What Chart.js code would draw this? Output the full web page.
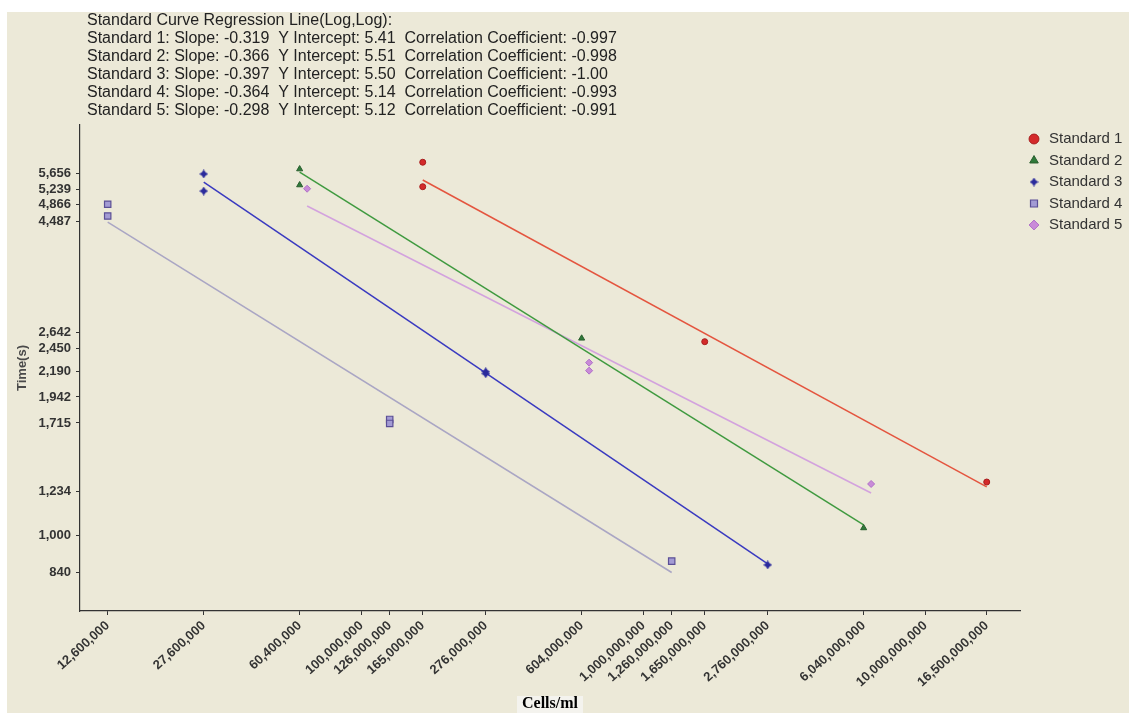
<!DOCTYPE html>
<html>
<head>
<meta charset="utf-8">
<script src="https://cdn.jsdelivr.net/npm/chart.js@4.4.1/dist/chart.umd.min.js"></script>
<style>
  html, body { margin: 0; padding: 0; background: #fff; }
  #wrap { width: 1129px; height: 713px; }
</style>
</head>
<body>
<div id="wrap"><canvas id="curve" width="1129" height="713"></canvas></div>
<script>
// Standard curves: time to detection vs cell concentration (log-log)

// measured points (cells/ml, time in s)
const std1Cells = [165000000, 165000000, 1650000000, 16500000000];
const std1Time = [5963, 5305, 2529, 1293];
const std2Cells = [60400000, 60400000, 604000000, 6040000000];
const std2Time = [5772, 5348, 2570, 1038];
const std3Cells = [27600000, 27600000, 276000000, 276000000, 2760000000];
const std3Time = [5638, 5197, 2191, 2170, 870];
const std4Cells = [12600000, 12600000, 126000000, 126000000, 1260000000];
const std4Time = [4878, 4611, 1744, 1711, 886];
const std5Cells = [64200000, 642000000, 642000000, 6420000000];
const std5Time = [5254, 2288, 2202, 1281];

// regression line end points
const fit1Cells = [165000000, 16500000000];
const fit1Time = [5477, 1263];
const fit2Cells = [60400000, 6040000000];
const fit2Time = [5691, 1053];
const fit3Cells = [27600000, 2760000000];
const fit3Time = [5425, 874];
const fit4Cells = [12600000, 1260000000];
const fit4Time = [4481, 839];
const fit5Cells = [64200000, 6420000000];
const fit5Time = [4837, 1227];

const xTicks = [12600000, 27600000, 60400000, 100000000, 126000000, 165000000, 276000000,
  604000000, 1000000000, 1260000000, 1650000000, 2760000000, 6040000000, 10000000000, 16500000000];
const yTicks = [840, 1000, 1234, 1715, 1942, 2190, 2450, 2642, 4487, 4866, 5239, 5656];

const summaryLines = [
  'Standard Curve Regression Line(Log,Log):',
  'Standard 1: Slope: -0.319  Y Intercept: 5.41  Correlation Coefficient: -0.997',
  'Standard 2: Slope: -0.366  Y Intercept: 5.51  Correlation Coefficient: -0.998',
  'Standard 3: Slope: -0.397  Y Intercept: 5.50  Correlation Coefficient: -1.00',
  'Standard 4: Slope: -0.364  Y Intercept: 5.14  Correlation Coefficient: -0.993',
  'Standard 5: Slope: -0.298  Y Intercept: 5.12  Correlation Coefficient: -0.991'
];

function pts(xs, ys) {
  return xs.map((x, i) => ({ x: x, y: ys[i] }));
}

// 4-point star marker for Standard 3
function makeStar(size, color) {
  const c = document.createElement('canvas');
  c.width = size; c.height = size;
  const g = c.getContext('2d');
  const m = size / 2, k = size * 0.2;
  g.fillStyle = color;
  g.beginPath();
  g.moveTo(m, 0);
  g.lineTo(m + k, m - k);
  g.lineTo(size, m);
  g.lineTo(m + k, m + k);
  g.lineTo(m, size);
  g.lineTo(m - k, m + k);
  g.lineTo(0, m);
  g.lineTo(m - k, m - k);
  g.closePath();
  g.fill();
  return c;
}
const starMark = makeStar(9, '#2b2b9c');

const backdrop = {
  id: 'backdrop',
  beforeDraw(chart) {
    const ctx = chart.ctx;
    ctx.save();
    ctx.fillStyle = '#ffffff';
    ctx.fillRect(0, 0, chart.width, chart.height);
    ctx.fillStyle = '#ece9d8';
    ctx.fillRect(7, 12, chart.width - 7, chart.height - 12);
    // light box behind the x axis title
    const ca = chart.chartArea;
    ctx.font = 'bold 16px "Liberation Serif"';
    const w = ctx.measureText('Cells/ml').width;
    const cx = (ca.left + ca.right) / 2;
    ctx.fillStyle = '#f4f3ee';
    ctx.fillRect(cx - w / 2 - 5, 696, w + 10, 17);
    ctx.restore();
  },
  afterDraw(chart) {
    const ctx = chart.ctx;
    ctx.save();
    ctx.font = '16px "Liberation Sans"';
    ctx.fillStyle = '#222';
    ctx.textBaseline = 'middle';
    summaryLines.forEach((t, i) => ctx.fillText(t, 87, 21 + i * 18));
    ctx.restore();
  }
};

const tickFont = { family: 'Liberation Sans', size: 13, weight: 'bold' };

new Chart(document.getElementById('curve'), {
  type: 'scatter',
  data: {
    datasets: [
      { label: 'Standard 1', data: pts(std1Cells, std1Time), pointStyle: 'circle', pointRadius: 3,
        backgroundColor: '#d42a2a', borderColor: '#a81e1e', borderWidth: 1, order: 1 },
      { label: 'Standard 2', data: pts(std2Cells, std2Time), pointStyle: 'triangle', pointRadius: 3.5,
        backgroundColor: '#2f7a3a', borderColor: '#2a5e2e', borderWidth: 1, order: 1 },
      { label: 'Standard 3', data: pts(std3Cells, std3Time), pointStyle: starMark, pointRadius: 4,
        backgroundColor: '#2b2b9c', borderColor: '#2b2b9c', borderWidth: 1, order: 1 },
      { label: 'Standard 4', data: pts(std4Cells, std4Time), pointStyle: 'rect', pointRadius: 4.5,
        backgroundColor: '#a39bd4', borderColor: '#5b4f96', borderWidth: 1.2, order: 1 },
      { label: 'Standard 5', data: pts(std5Cells, std5Time), pointStyle: 'rectRot', pointRadius: 3.5,
        backgroundColor: '#c98bd8', borderColor: '#b070c8', borderWidth: 1, order: 1 },

      { label: 'fit1', isFit: true, data: pts(fit1Cells, fit1Time), showLine: true, pointRadius: 0,
        borderColor: '#e4553f', borderWidth: 1.5, order: 2 },
      { label: 'fit2', isFit: true, data: pts(fit2Cells, fit2Time), showLine: true, pointRadius: 0,
        borderColor: '#3f9a3f', borderWidth: 1.5, order: 2 },
      { label: 'fit3', isFit: true, data: pts(fit3Cells, fit3Time), showLine: true, pointRadius: 0,
        borderColor: '#3a3ac0', borderWidth: 1.5, order: 2 },
      { label: 'fit4', isFit: true, data: pts(fit4Cells, fit4Time), showLine: true, pointRadius: 0,
        borderColor: '#aaa6c4', borderWidth: 1.5, order: 2 },
      { label: 'fit5', isFit: true, data: pts(fit5Cells, fit5Time), showLine: true, pointRadius: 0,
        borderColor: '#d3a2de', borderWidth: 1.5, order: 2 }
    ]
  },
  options: {
    responsive: false,
    animation: false,
    devicePixelRatio: 1,
    layout: { padding: { top: 125, right: 0, bottom: 0, left: 0 } },
    plugins: {
      tooltip: { enabled: false },
      legend: {
        position: 'right',
        align: 'start',
        maxWidth: 109,
        labels: {
          usePointStyle: true,
          boxHeight: 7,
          padding: 6.5,
          color: '#333',
          font: { family: 'Liberation Sans', size: 15 },
          filter: (item, data) => !data.datasets[item.datasetIndex].isFit
        }
      }
    },
    scales: {
      x: {
        type: 'logarithmic',
        position: 'bottom',
        min: 10050000,
        max: 21650000000,
        afterFit: s => { s.height = 102; },
        afterBuildTicks: s => { s.ticks = xTicks.map(v => ({ value: v })); },
        ticks: {
          autoSkip: false, minRotation: 42, maxRotation: 42, padding: 3,
          color: '#333', font: tickFont,
          callback: v => Number(v).toLocaleString('en-US')
        },
        grid: { drawOnChartArea: false, drawTicks: true, tickLength: 4, tickColor: '#333' },
        border: { color: '#333', width: 1.2 },
        title: {
          display: true, text: 'Cells/ml', color: '#000',
          font: { family: 'Liberation Serif', size: 16, weight: 'bold' },
          padding: { top: 0, bottom: 0 }
        }
      },
      y: {
        type: 'logarithmic',
        position: 'left',
        min: 698,
        max: 7125,
        afterFit: s => { s.width = 80; },
        afterBuildTicks: s => { s.ticks = yTicks.map(v => ({ value: v })); },
        ticks: {
          autoSkip: false, padding: 5, color: '#333', font: tickFont,
          callback: v => Number(v).toLocaleString('en-US')
        },
        grid: { drawOnChartArea: false, drawTicks: true, tickLength: 4, tickColor: '#333' },
        border: { color: '#333', width: 1.2 },
        title: {
          display: true, text: 'Time(s)', color: '#4a4a4a',
          font: { family: 'Liberation Sans', size: 13, weight: 'bold' },
          padding: { top: 15, bottom: 0 }
        }
      }
    }
  },
  plugins: [backdrop]
});
</script>
</body>
</html>
